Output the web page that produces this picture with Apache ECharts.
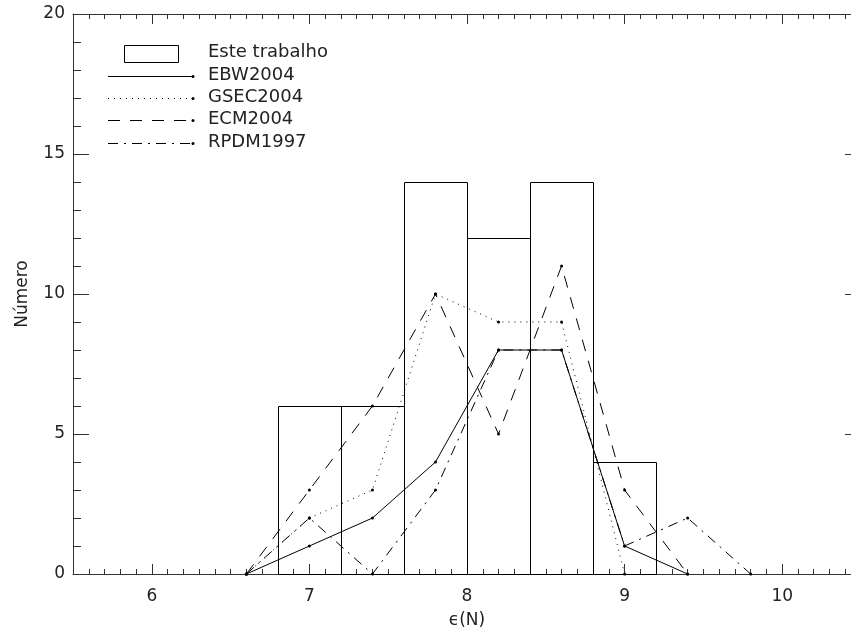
<!DOCTYPE html>
<html>
<head>
<meta charset="utf-8">
<script src="https://cdn.jsdelivr.net/npm/echarts@6/dist/echarts.min.js"></script>
<style>html,body{margin:0;padding:0;background:#fff;}#c{width:851px;height:630px;}</style>
</head>
<body>
<div id="c"></div>
<script>
// Histogram (Este trabalho): bin edges and counts
var binStart = [6.8, 7.2, 7.6, 8.0, 8.4, 8.8];
var binEnd   = [7.2, 7.6, 8.0, 8.4, 8.8, 9.2];
var binCount = [6, 6, 14, 12, 14, 4];

// Comparison distributions
var xEBW  = [6.6, 7.0, 7.4, 7.8, 8.2, 8.6, 9.0, 9.4];
var yEBW  = [0, 1, 2, 4, 8, 8, 1, 0];
var xGSEC = [6.6, 7.0, 7.4, 7.8, 8.2, 8.6, 9.0];
var yGSEC = [0, 2, 3, 10, 9, 9, 0];
var xECM  = [6.6, 7.0, 7.4, 7.8, 8.2, 8.6, 9.0, 9.4];
var yECM  = [0, 3, 6, 10, 5, 11, 3, 0];
var xRPDM = [6.6, 7.0, 7.4, 7.8, 8.2, 8.6, 9.0, 9.4, 9.8];
var yRPDM = [0, 2, 0, 3, 8, 8, 1, 2, 0];

var xMajorTicks = [6, 7, 8, 9, 10];
var legendNames = ['Este trabalho', 'EBW2004', 'GSEC2004', 'ECM2004', 'RPDM1997'];

function zip(a, b) { return a.map(function (v, i) { return [v, b[i]]; }); }

var FONT = 'DejaVu Sans';
var AX = '#333';

var chart = echarts.init(document.getElementById('c'), null, {renderer: 'canvas'});

function xAxisCfg(pos, major, labels) {
  return {
    type: 'value', position: pos, min: 5.5, max: 10.5,
    interval: 0.1,
    axisLine: {show: !major, onZero: false, lineStyle: {color: AX, width: 1}},
    axisTick: major ? {show: true, inside: true, length: 10, customValues: xMajorTicks, lineStyle: {color: AX}}
                    : {show: true, inside: true, length: 5, lineStyle: {color: AX}},
    axisLabel: labels ? {show: true, customValues: xMajorTicks, margin: 14, color: '#222', fontFamily: FONT, fontSize: 17}
                      : {show: false},
    splitLine: {show: false},
    name: labels ? 'ϵ(N)' : '',
    nameLocation: 'middle', nameGap: 38,
    nameTextStyle: {color: '#222', fontFamily: FONT, fontSize: 17}
  };
}
function yAxisCfg(pos, labels) {
  return {
    type: 'value', position: pos, min: 0, max: 20, interval: 5,
    axisLine: {show: true, lineStyle: {color: AX, width: 1}},
    axisTick: {show: true, inside: true, length: 16, lineStyle: {color: AX}},
    minorTick: {show: true, splitNumber: 5, length: 8, lineStyle: {color: AX}},
    axisLabel: {show: labels, margin: 8, color: '#222', fontFamily: FONT, fontSize: 17},
    splitLine: {show: false},
    name: labels ? 'Número' : '',
    nameLocation: 'middle', nameGap: 42,
    nameTextStyle: {color: '#222', fontFamily: FONT, fontSize: 17}
  };
}

function lineSeries(name, xs, ys, dash) {
  return {
    name: name, type: 'line', xAxisIndex: 0, yAxisIndex: 0,
    data: zip(xs, ys),
    symbol: 'circle', symbolSize: 3, showSymbol: true,
    itemStyle: {color: '#000'},
    lineStyle: {color: '#000', width: 1, type: dash},
    animation: false, z: 3
  };
}

var histData = binStart.map(function (s, i) { return [s, binEnd[i], binCount[i]]; });

var legY = [53, 76, 98, 120, 143];
var graphics = [{
  type: 'rect', shape: {x: 124.5, y: 45.5, width: 54, height: 17},
  style: {fill: 'none', stroke: '#000', lineWidth: 1}
}];
var dashes = [null, [1, 5], [12, 10], [10, 6, 2, 6]];
for (var i = 0; i < 5; i++) {
  graphics.push({
    type: 'text', left: 208, top: legY[i] - 10,
    style: {text: legendNames[i], fill: '#222', font: '18px "' + FONT + '"'}
  });
  if (i > 0) {
    graphics.push({
      type: 'line', shape: {x1: 108, y1: legY[i] + 0.5, x2: 193, y2: legY[i] + 0.5},
      style: {stroke: '#000', lineWidth: 1, lineDash: dashes[i - 1]}
    });
    graphics.push({
      type: 'circle', shape: {cx: 193, cy: legY[i] + 0.5, r: 1.5},
      style: {fill: '#000'}
    });
  }
}

chart.setOption({
  animation: false,
  backgroundColor: '#fff',
  grid: {left: 73, top: 14, width: 788, height: 560, containLabel: false, outerBoundsMode: 'none'},
  xAxis: [
    xAxisCfg('bottom', false, true),
    xAxisCfg('bottom', true, false),
    xAxisCfg('top', false, false),
    xAxisCfg('top', true, false)
  ],
  yAxis: [yAxisCfg('left', true), yAxisCfg('right', false)],
  graphic: graphics,
  series: [
    {
      name: 'Este trabalho', type: 'custom', xAxisIndex: 0, yAxisIndex: 0,
      data: histData,
      encode: {x: [0, 1], y: 2},
      renderItem: function (params, api) {
        var p0 = api.coord([api.value(0), api.value(2)]);
        var p1 = api.coord([api.value(1), 0]);
        return {
          type: 'rect',
          shape: {x: Math.round(p0[0]) + 0.5, y: Math.round(p0[1]) + 0.5,
                  width: Math.round(p1[0]) - Math.round(p0[0]), height: Math.round(p1[1]) - Math.round(p0[1])},
          style: {fill: 'none', stroke: '#000', lineWidth: 1}
        };
      },
      z: 2
    },
    lineSeries('EBW2004', xEBW, yEBW, 'solid'),
    lineSeries('GSEC2004', xGSEC, yGSEC, [1, 5]),
    lineSeries('ECM2004', xECM, yECM, [12, 10]),
    lineSeries('RPDM1997', xRPDM, yRPDM, [10, 6, 2, 6])
  ]
});
</script>
</body>
</html>
